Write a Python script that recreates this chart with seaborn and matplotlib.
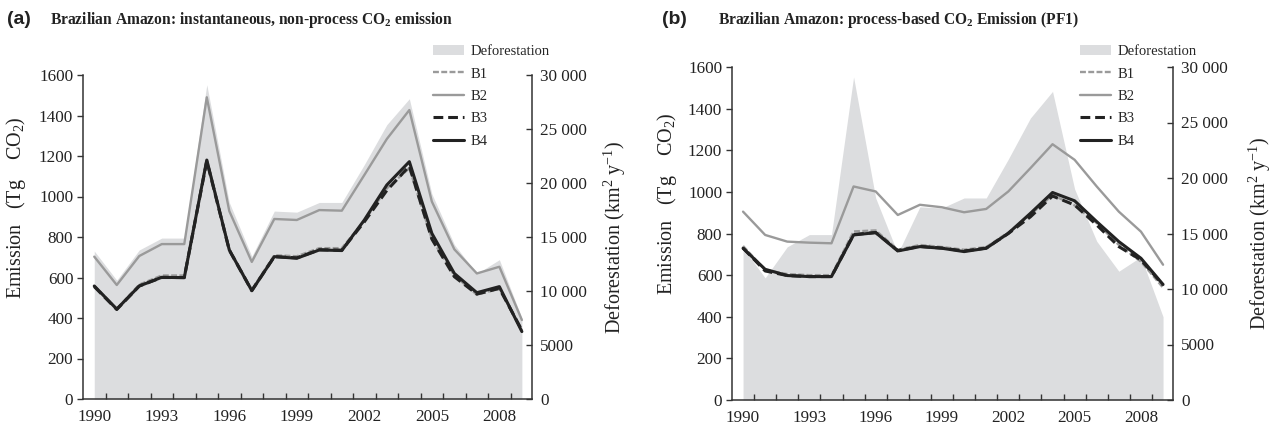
import numpy as np
import pandas as pd
import seaborn as sns
import matplotlib.pyplot as plt

years = list(range(1990, 2010))
deforestation = [13700, 11000, 13800, 14900, 14900, 29100, 18200, 13200, 17400, 17300,
                 18200, 18200, 21700, 25400, 27800, 19000, 14300, 11600, 12900, 7500]

# (a) instantaneous, non-process emission (Tg CO2)
a_b1 = [560, 445, 565, 610, 610, 1185, 740, 540, 710, 705, 745, 745, 880, 1040, 1140, 790, 610, 515, 545, 340]
a_b2 = [703, 563, 706, 765, 765, 1490, 928, 677, 889, 884, 933, 930, 1106, 1284, 1427, 975, 739, 620, 653, 390]
a_b3 = [555, 442, 558, 600, 600, 1175, 735, 535, 703, 697, 737, 735, 875, 1030, 1150, 790, 604, 518, 546, 340]
a_b4 = [558, 444, 558, 601, 599, 1180, 736, 535, 703, 695, 736, 733, 884, 1057, 1172, 818, 620, 525, 555, 333]

# (b) process-based emission, PF1 (Tg CO2)
b_b1 = [740, 625, 605, 600, 600, 810, 815, 722, 745, 735, 722, 735, 805, 890, 985, 935, 850, 745, 665, 540]
b_b2 = [905, 793, 761, 756, 753, 1026, 1002, 889, 938, 926, 902, 918, 1002, 1114, 1229, 1154, 1026, 905, 809, 650]
b_b3 = [730, 620, 598, 593, 593, 795, 805, 718, 738, 730, 716, 730, 800, 880, 980, 937, 841, 737, 673, 553]
b_b4 = [729, 628, 598, 593, 593, 793, 804, 716, 737, 729, 713, 729, 801, 897, 997, 957, 857, 761, 681, 555]

scenarios = ["B1", "B2", "B3", "B4"]
year_labels = [str(y) for y in years[::3]]
emission_ticks = [0, 200, 400, 600, 800, 1000, 1200, 1400, 1600]
defor_ticks = [0, 5000, 10000, 15000, 20000, 25000, 30000]
defor_tick_labels = ["0", "5000", "10 000", "15 000", "20 000", "25 000", "30 000"]

sns.set_style("ticks")
plt.rcParams["font.family"] = ["Liberation Serif", "DejaVu Serif"]
plt.rcParams["mathtext.fontset"] = "stix"
plt.rcParams["mathtext.default"] = "regular"

AREA = "#dcdddf"
GREY = "#9a9a9a"
DARK = "#222222"
INK = "#222222"

palette = {"B1": GREY, "B2": GREY, "B3": DARK, "B4": DARK}
dashes = {"B1": (2.5, 1.0), "B2": "", "B3": (3.2, 1.6), "B4": ""}
sizes = {"B1": 1.7, "B2": 1.7, "B3": 2.2, "B4": 2.2}


def draw_panel(ax, series, title, letter, title_x, letter_x, legend_x, left_lab_x, right_lab_x):
    """Deforestation area on the twin axis, emission lines on the main axis."""
    df = pd.DataFrame({"year": years * 4,
                       "emission": sum(series, []),
                       "scenario": np.repeat(scenarios, len(years))})

    ax2 = ax.twinx()
    ax2.fill_between(years, deforestation, color=AREA, lw=0, label="Deforestation")
    ax.set_zorder(ax2.get_zorder() + 1)
    ax.patch.set_visible(False)

    sns.lineplot(data=df, x="year", y="emission", hue="scenario", style="scenario",
                 size="scenario", hue_order=scenarios, palette=palette,
                 dashes=dashes, sizes=sizes, errorbar=None, legend=False, ax=ax)

    ax.set_xlim(1989.5, 2009.45)
    ax.set_ylim(0, 1600)
    ax2.set_ylim(0, 30000)

    ax.set_xticks(years[::3])
    ax.set_xticklabels(year_labels)
    ax.set_xticks([y + 0.5 for y in years[:-1]], minor=True)
    ax.tick_params(axis="x", which="major", length=0, pad=7, labelsize=12.3, labelcolor=INK)
    ax.tick_params(axis="x", which="minor", direction="in", length=4, width=1, color="#333")
    ax.set_yticks(emission_ticks)
    ax.tick_params(axis="y", direction="out", length=4, width=1, color="#333",
                   labelsize=12.3, labelcolor=INK, pad=3)
    ax2.set_yticks(defor_ticks)
    ax2.set_yticklabels(defor_tick_labels)
    ax2.tick_params(axis="y", direction="in", length=4, width=1, color="#333",
                    labelsize=12.3, labelcolor=INK, pad=6)

    for s in ["top", "right"]:
        ax.spines[s].set_visible(False)
    for s in ["top", "left", "bottom"]:
        ax2.spines[s].set_visible(False)
    for sp in [ax.spines["left"], ax.spines["bottom"], ax2.spines["right"]]:
        sp.set_color("#333")
        sp.set_linewidth(1.1)

    ax.set_xlabel("")
    ax.set_ylabel("Emission   (Tg    CO$_2$)", fontsize=14.5, color=INK)
    ax.yaxis.set_label_coords(left_lab_x, 0.59)
    ax2.set_ylabel("Deforestation (km$^2$ y$^{-1}$)", fontsize=14.5, color=INK)
    ax2.yaxis.set_label_coords(right_lab_x, 0.5)

    fig = ax.figure
    fig.text(letter_x, 1 - 20 / 424, letter, family=["Liberation Sans", "DejaVu Sans"],
             fontweight="bold", fontsize=14, va="center", color=INK)
    fig.text(title_x, 1 - 20 / 424, title, fontweight="bold", fontsize=11.2,
             va="center", color=INK)

    handles = [ax2.collections[0]] + ax.get_lines()[:4]
    fig.legend(handles, ["Deforestation"] + scenarios, loc="upper left",
               bbox_to_anchor=(legend_x, 1 - 45 / 424), bbox_transform=fig.transFigure,
               frameon=False, fontsize=10.5, handlelength=2.1, handletextpad=0.45,
               labelspacing=0.63, borderpad=0, borderaxespad=0)
    return ax2


fig = plt.figure(figsize=(12.72, 4.24), dpi=100)
ax_a = fig.add_axes([83 / 1272, 25 / 424, 449 / 1272, 324 / 424])
ax_b = fig.add_axes([732 / 1272, 24 / 424, 441 / 1272, 333 / 424])

draw_panel(ax_a, [a_b1, a_b2, a_b3, a_b4],
           "Brazilian Amazon: instantaneous, non-process CO$_2$ emission", "(a)",
           50 / 1272, 7 / 1272, 433 / 1272, -0.122, 1.155)
draw_panel(ax_b, [b_b1, b_b2, b_b3, b_b4],
           "Brazilian Amazon: process-based CO$_2$ Emission (PF1)", "(b)",
           718 / 1272, 662 / 1272, 1080 / 1272, -0.12, 1.168)

fig.savefig("out.png", dpi=100)
